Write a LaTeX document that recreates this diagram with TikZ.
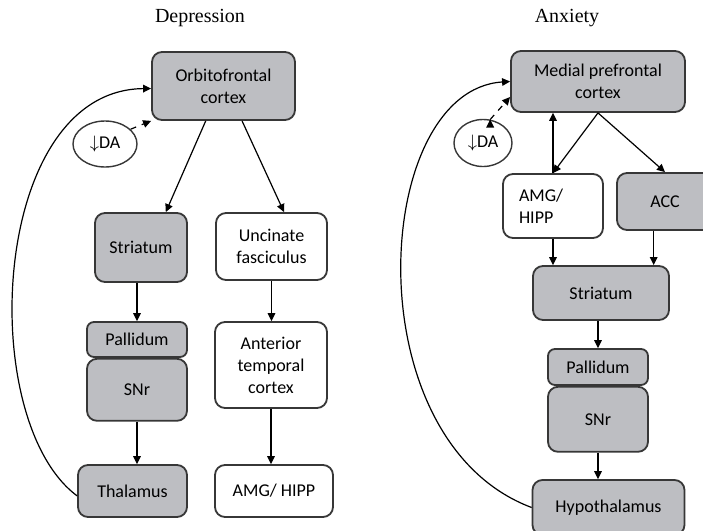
\documentclass[tikz,border=0pt]{standalone}
\usepackage{fontspec}
\setmainfont{Carlito}
\newfontfamily\titlefont{Liberation Serif}
\usepackage{tikz}
\usetikzlibrary{arrows.meta, positioning, shapes.geometric}

\definecolor{boxgray}{RGB}{189,190,194}
\definecolor{edgegray}{RGB}{55,55,55}

\tikzset{
  region/.style={draw=edgegray, line width=0.9pt, rounded corners=5pt, fill=boxgray,
    align=center, inner sep=0pt, font=\fontsize{9}{11}\selectfont},
  plain/.style={region, fill=white},
  level/.style={ellipse, draw=edgegray, line width=0.7pt, inner sep=0pt,
    font=\fontsize{9}{11}\selectfont},
  heading/.style={font=\titlefont\fontsize{10}{12}\selectfont},
  arr/.style={line width=0.6pt, -{Triangle[length=4pt,width=3.8pt]}},
}

\begin{document}
\begin{tikzpicture}[x=0.5pt, y=-0.5pt]
        \clip (0,0) rectangle (703,531);

        % depression
        \node[heading] (dep) at (200,18) {Depression};
        \node[region, minimum width=71.5pt, minimum height=34pt] (ofc) at (223.5,86) {Orbitofrontal\\cortex};
        \node[level, minimum width=32pt, minimum height=23pt] (da1) at (105,144) {$\downarrow$DA};
        \node[region, minimum width=46pt, minimum height=34.5pt] (str1) at (141,247.5) {Striatum};
        \node[plain, minimum width=55.5pt, minimum height=33.5pt] (unc) at (271.5,246.5) {Uncinate\\fasciculus};
        \node[region, rounded corners=3.5pt, minimum width=50pt, minimum height=17.5pt] (pal1) at (137,339.5) {Pallidum};
        \node[region, minimum width=50pt, minimum height=31pt, below=0pt of pal1] (snr1) {SNr};
        \node[region, minimum width=54.5pt, minimum height=26pt] (thal) at (132.5,491) {Thalamus};
        \node[plain, minimum width=56pt, minimum height=43pt] (atc) at (271,365) {Anterior\\temporal\\cortex};
        \node[plain, minimum width=59pt, minimum height=26pt] (amg1) at (274,491) {AMG/ HIPP};

        % anxiety
        \node[heading] (anx) at (567,18) {Anxiety};
        \node[region, minimum width=87pt, minimum height=30.5pt] (mpfc) at (598,81.5) {Medial prefrontal\\cortex};
        \node[level, minimum width=29pt, minimum height=23.5pt] (da2) at (483,143) {$\downarrow$DA};
        \node[plain, minimum width=50pt, minimum height=32pt, text width=34pt, align=left] (amg2) at (553,206) {AMG/\\HIPP};
        \node[region, minimum width=48pt, minimum height=28.5pt] (acc) at (665,201.5) {ACC};
        \node[region, minimum width=68pt, minimum height=27pt] (str2) at (601,293) {Striatum};
        \node[region, rounded corners=3.5pt, minimum width=50pt, minimum height=18pt] (pal2) at (598,367) {Pallidum};
        \node[region, minimum width=50pt, minimum height=32.5pt, below=0pt of pal2] (snr2) {SNr};
        \node[region, minimum width=76pt, minimum height=27.5pt] (hyp) at (608.5,507.5) {Hypothalamus};

        \draw[arr]
            (ofc.243) edge (str1.55)
            (ofc.298) edge (unc.70)
            (pal1.north |- str1.south) edge (pal1.north)
            (snr1.south) edge (snr1.south |- thal.north)
            (unc.south) edge (unc.south |- atc.north)
            (atc.south) edge (atc.south |- amg1.north)
            (da1.30) edge[dashed] (ofc.south west)
            (mpfc.south) edge (amg2.north)
            (amg2.north) edge (amg2.north |- mpfc.south)
            (mpfc.south) edge (acc.north)
            (amg2.south) edge (amg2.south |- str2.north)
            (acc.-111) edge (acc.-111 |- str2.north)
            (pal2.north |- str2.south) edge (pal2.north)
            (snr2.south) edge (snr2.south |- hyp.north)
            (da2.73) edge[dashed] (mpfc.190)
            ;

        % feedback loops
        \draw[arr] (thal.185) .. controls (-25,420) and (-10,90) .. (ofc.182);
        \draw[arr] (hyp.west) .. controls (352,440) and (372,90) .. (mpfc.west);
\end{tikzpicture}
\end{document}
